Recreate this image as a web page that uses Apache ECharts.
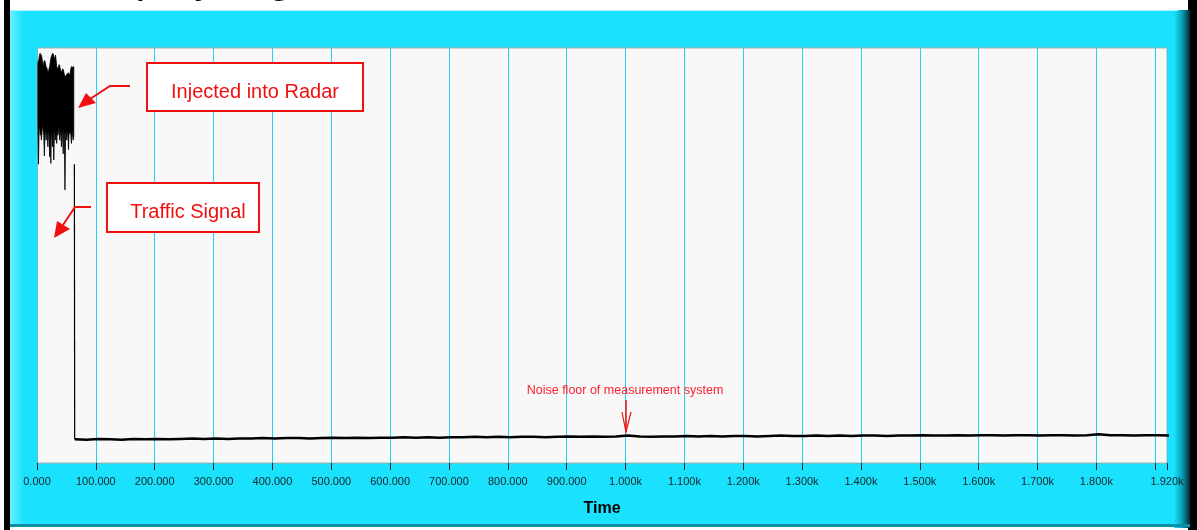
<!DOCTYPE html>
<html>
<head>
<meta charset="utf-8">
<script src="https://cdn.jsdelivr.net/npm/echarts@6.0.0/dist/echarts.min.js"></script>
<style>
  html, body { margin: 0; padding: 0; background: #ffffff; }
  #chart { width: 1197px; height: 530px; }
</style>
</head>
<body>
<div id="chart"></div>
<script>
// ---- data ----
const xTickMin = 0;
const xTickMax = 1920;
const xTickInterval = 100;
const axisTitle = 'Time';
const chartTitle = 'Display Signal';

// radar burst: one sample per time unit starting at 1.5; each sample swings between a high and a low value
const burstStart = 1.5;
const burstStep = 1;
const burstHigh = [
  0.965, 0.968, 0.975, 0.985, 0.987, 0.984, 0.983, 0.975, 0.962, 0.960,
  0.965, 0.970, 0.968, 0.962, 0.955, 0.953, 0.948, 0.940, 0.945, 0.950,
  0.955, 0.965, 0.975, 0.980, 0.983, 0.987, 0.986, 0.980, 0.978, 0.975,
  0.983, 0.970, 0.955, 0.952, 0.950, 0.955, 0.960, 0.958, 0.950, 0.945,
  0.940, 0.945, 0.950, 0.948, 0.942, 0.935, 0.930, 0.932, 0.935, 0.935,
  0.938, 0.940, 0.940, 0.937, 0.935, 0.940, 0.950, 0.955, 0.955, 0.953,
  0.955, 0.955
];
const burstLow = [
  0.820, 0.720, 0.800, 0.810, 0.790, 0.800, 0.778, 0.800, 0.818, 0.800,
  0.790, 0.740, 0.790, 0.800, 0.778, 0.800, 0.790, 0.762, 0.800, 0.790,
  0.738, 0.790, 0.722, 0.800, 0.790, 0.762, 0.800, 0.730, 0.790, 0.800,
  0.778, 0.800, 0.770, 0.800, 0.790, 0.800, 0.810, 0.778, 0.800, 0.790,
  0.762, 0.800, 0.790, 0.745, 0.800, 0.790, 0.658, 0.790, 0.800, 0.778,
  0.790, 0.800, 0.755, 0.800, 0.794, 0.800, 0.790, 0.770, 0.800, 0.790,
  0.778, 0.790
];
const burstEndTime = 63.5;
const burstEndValue = 0.72;

// noise floor sampled every 20 time units starting at 64
const floorStart = 64;
const floorStep = 20;
const floorValues = [
  0.057,0.056,0.058,0.057,0.056,0.058,0.057,0.058,0.057,0.058,
  0.059,0.058,0.059,0.058,0.059,0.059,0.060,0.059,0.060,0.060,
  0.059,0.060,0.061,0.060,0.061,0.060,0.061,0.061,0.062,0.061,
  0.062,0.061,0.062,0.062,0.063,0.062,0.063,0.062,0.063,0.063,
  0.062,0.063,0.064,0.063,0.064,0.063,0.064,0.066,0.064,0.063,
  0.064,0.064,0.065,0.064,0.065,0.064,0.065,0.065,0.064,0.065,
  0.066,0.065,0.065,0.066,0.065,0.066,0.065,0.066,0.066,0.065,
  0.066,0.066,0.067,0.066,0.066,0.067,0.066,0.067,0.067,0.066,
  0.067,0.067,0.066,0.067,0.067,0.066,0.067,0.069,0.067,0.067,
  0.066,0.067,0.067,0.066
];

// annotation texts
const noteRadar = 'Injected into Radar';
const noteTraffic = 'Traffic Signal';
const noteNoise = 'Noise floor of measurement system';

// ---- build series data ----
const burstTimes = burstHigh.map((h, i) => burstStart + i * burstStep);
const floorData = floorValues.map((v, i) => [floorStart + i * floorStep, v]);
const dropData = [[burstEndTime, burstEndValue], floorData[0]];

function fmtTick(v) {
  if (v === 1900) return '';
  if (v >= 1000) return (v / 1000).toFixed(3) + 'k';
  return v.toFixed(3);
}

// one filled envelope shape for the whole burst, positioned through the axes
function renderBurst(params, api) {
  const pts = [];
  for (let i = 0; i < burstTimes.length; i++) pts.push(api.coord([burstTimes[i], burstHigh[i]]));
  for (let i = burstTimes.length - 1; i >= 0; i--) pts.push(api.coord([burstTimes[i], burstLow[i]]));
  return {
    type: 'polygon',
    shape: { points: pts },
    style: { fill: '#000', stroke: '#000', lineWidth: 0.8 }
  };
}

const chart = echarts.init(document.getElementById('chart'), null, { renderer: 'canvas' });
const RED = '#f01010';

const option = {
  animation: false,
  backgroundColor: '#ffffff',
  grid: {
    left: 37, right: 30, top: 48, bottom: 67,
    show: true,
    backgroundColor: '#f8f8f8',
    borderColor: '#b0b0b0',
    borderWidth: 1
  },
  xAxis: {
    type: 'value',
    min: xTickMin,
    max: xTickMax,
    interval: xTickInterval,
    name: axisTitle,
    nameLocation: 'middle',
    nameGap: 38,
    nameTextStyle: { fontFamily: 'Liberation Sans, Arial, sans-serif', fontWeight: 'bold', fontSize: 16, color: '#000' },
    axisLine: { show: false },
    axisTick: { show: true, length: 7, lineStyle: { color: '#222', width: 1 } },
    axisLabel: {
      margin: 13,
      fontFamily: 'Liberation Sans Narrow, Liberation Sans, Arial, sans-serif',
      fontSize: 11,
      color: '#142626',
      showMinLabel: true,
      showMaxLabel: true,
      hideOverlap: false,
      formatter: fmtTick
    },
    splitLine: { show: true, lineStyle: { color: '#22d4f4', width: 1 } }
  },
  yAxis: {
    type: 'value',
    min: 0,
    max: 1,
    show: false
  },
  series: [
    {
      type: 'custom',
      data: [[burstStart, burstHigh[0]]],
      renderItem: renderBurst,
      z: 5
    },
    {
      type: 'line',
      data: dropData,
      showSymbol: false,
      symbol: 'none',
      lineStyle: { color: '#000', width: 1.2 },
      z: 5
    },
    {
      type: 'line',
      data: floorData,
      showSymbol: false,
      symbol: 'none',
      clip: true,
      lineStyle: { color: '#000', width: 2.5 },
      z: 5
    }
  ],
  graphic: [
    // frame
    { type: 'rect', z: -10, shape: { x: 4, y: 0, width: 6, height: 530 }, style: { fill: '#000' } },
    { type: 'rect', z: -10, shape: { x: 1188, y: 0, width: 9, height: 530 }, style: { fill: '#000' } },
    { type: 'rect', z: -9, shape: { x: 10, y: 10, width: 1174, height: 516 }, style: { fill: '#1ae1fe' } },
    { type: 'rect', z: -9, shape: { x: 10, y: 10, width: 14, height: 516 },
      style: { fill: new echarts.graphic.LinearGradient(0, 0, 1, 0, [{ offset: 0, color: '#6af0ff' }, { offset: 1, color: '#1ae1fe' }]) } },
    { type: 'rect', z: -9, shape: { x: 1174, y: 10, width: 16, height: 518 },
      style: { fill: new echarts.graphic.LinearGradient(0, 0, 1, 0, [{ offset: 0, color: '#1ae1fe' }, { offset: 0.5, color: '#0a9fb8' }, { offset: 1, color: '#012a33' }]) } },
    { type: 'rect', z: -9, shape: { x: 10, y: 524, width: 1180, height: 3 }, style: { fill: '#0c8fa5' } },
    { type: 'line', z: -8, shape: { x1: 10, y1: 10.5, x2: 1178, y2: 10.5 }, style: { stroke: '#a8f4ff', lineWidth: 1 } },
    // cut-off title at very top
    { type: 'text', z: -5, x: 72, y: -20, style: { text: chartTitle, font: '44px Liberation Sans, Arial, sans-serif', fill: '#000', verticalAlign: 'middle', align: 'left' } },

    // Injected into Radar box + arrow
    { type: 'rect', z: 100, shape: { x: 147, y: 63, width: 216, height: 48 }, style: { fill: '#fff', stroke: RED, lineWidth: 2 } },
    { type: 'text', z: 101, x: 255, y: 92, style: { text: noteRadar, font: '20px Liberation Sans, Arial, sans-serif', fill: RED, align: 'center', verticalAlign: 'middle' } },
    { type: 'polyline', z: 100, shape: { points: [[130, 86], [110, 86], [90, 99]] }, style: { stroke: RED, lineWidth: 2, fill: null } },
    { type: 'polygon', z: 100, shape: { points: [[78, 108], [86, 93], [96, 103]] }, style: { fill: RED } },

    // Traffic Signal box + arrow
    { type: 'rect', z: 100, shape: { x: 107, y: 183, width: 152, height: 49 }, style: { fill: '#fff', stroke: RED, lineWidth: 2 } },
    { type: 'text', z: 101, x: 188, y: 212, style: { text: noteTraffic, font: '20px Liberation Sans, Arial, sans-serif', fill: RED, align: 'center', verticalAlign: 'middle' } },
    { type: 'polyline', z: 100, shape: { points: [[91, 207], [75, 207], [63, 225]] }, style: { stroke: RED, lineWidth: 2, fill: null } },
    { type: 'polygon', z: 100, shape: { points: [[54, 238], [57, 221], [70, 229]] }, style: { fill: RED } },

    // Noise floor note
    { type: 'text', z: 101, x: 625, y: 391, style: { text: noteNoise, font: '12.5px Liberation Sans, Arial, sans-serif', fill: '#ff2030', align: 'center', verticalAlign: 'middle' } },
    { type: 'line', z: 100, shape: { x1: 626, y1: 400, x2: 626, y2: 432 }, style: { stroke: RED, lineWidth: 1.5 } },
    { type: 'polyline', z: 100, shape: { points: [[622, 412], [626, 432], [631, 412]] }, style: { stroke: RED, lineWidth: 1.2, fill: null } }
  ]
};
chart.setOption(option);
</script>
</body>
</html>
